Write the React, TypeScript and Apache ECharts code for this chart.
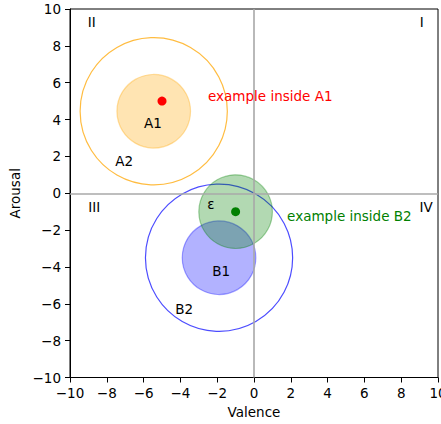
import React, { useEffect, useRef } from "react";
import * as echarts from "echarts";

// Circles (regions)
const circleNames = ["A2", "A1", "B2", "B1", "ε"];
const circleX = [-5.45, -5.45, -1.9, -1.9, -1];
const circleY = [4.45, 4.45, -3.5, -3.5, -1];
const circleR = [4, 2, 4, 2, 2];
const circleFill = ["none", "rgba(255,165,0,0.3)", "none", "rgba(0,0,255,0.3)", "rgba(0,128,0,0.3)"];
const circleStroke = ["rgba(255,165,0,0.75)", "rgba(255,165,0,0.35)", "rgba(0,0,255,0.7)", "rgba(0,0,255,0.35)", "rgba(0,128,0,0.35)"];

// Example points
const pointX = [-5, -1];
const pointY = [5, -1];
const pointColors = ["#ff0000", "#008000"];

// Text annotations
const textLabels = ["A1", "A2", "ε", "B1", "B2", "example inside A1", "example inside B2", "II", "I", "III", "IV"];
const textX = [-5.5, -7.05, -2.34, -1.79, -3.79, -2.5, 1.8, -8.82, 9.11, -8.68, 9.35];
const textY = [3.79, 1.76, -0.56, -4.22, -6.27, 5.27, -1.25, 9.3, 9.3, -0.74, -0.74];
const textAlign = ["center", "center", "center", "center", "center", "left", "left", "center", "center", "center", "center"];
const textColors = ["#000", "#000", "#000", "#000", "#000", "#ff0000", "#008000", "#000", "#000", "#000", "#000"];

const axisMin = -10;
const axisMax = 10;
const axisInterval = 2;

const FONT = "DejaVu Sans";
const FS = 13.5;
const fmt = (v: number) => String(v).replace("-", "\u2212");

export default function App() {
  const ref = useRef<HTMLDivElement>(null);
  useEffect(() => {
    if (!ref.current) return;
    const chart = echarts.init(ref.current, undefined, { renderer: "svg" });
    const axisCommon = {
      type: "value" as const,
      min: axisMin,
      max: axisMax,
      interval: axisInterval,
      splitLine: { show: false },
      axisLine: { show: true, onZero: false, lineStyle: { color: "#000", width: 1 } },
      axisTick: { show: true, inside: false, length: 5, lineStyle: { color: "#000", width: 1 } },
      axisLabel: { formatter: fmt, color: "#000", fontSize: FS, fontFamily: FONT },
      nameLocation: "middle" as const,
      nameTextStyle: { color: "#000", fontSize: FS, fontFamily: FONT },
    };
    chart.setOption({
      animation: false,
      grid: {
        left: 70, top: 9, width: 368, height: 368.5,
        containLabel: false, outerBoundsMode: "none",
        show: true, borderColor: "#000", borderWidth: 1, backgroundColor: "transparent",
      },
      xAxis: { ...axisCommon, name: "Valence", nameGap: 27, axisLabel: { ...axisCommon.axisLabel, margin: 8 } },
      yAxis: { ...axisCommon, name: "Arousal", nameGap: 45, axisLabel: { ...axisCommon.axisLabel, margin: 9 } },
      series: [
        {
          type: "line",
          data: [],
          markLine: {
            silent: true,
            symbol: "none",
            label: { show: false },
            lineStyle: { color: "#a8a8a8", width: 1.6, type: "solid" },
            data: [{ xAxis: 0 }, { yAxis: 0 }],
          },
        },
        {
          type: "custom",
          data: circleX.map((x, i) => [x, circleY[i], circleR[i]]),
          renderItem: (params: any, api: any) => {
            const i = params.dataIndex;
            const c = api.coord([api.value(0), api.value(1)]);
            const s = api.size([api.value(2), api.value(2)]);
            return {
              type: "circle",
              shape: { cx: c[0], cy: c[1], r: s[0] },
              style: { fill: circleFill[i], stroke: circleStroke[i], lineWidth: 1.2 },
            };
          },
          z: 3,
        },
        ...pointX.map((x, i) => ({
          type: "scatter",
          data: [[x, pointY[i]]],
          symbolSize: 9,
          itemStyle: { color: pointColors[i], opacity: 1 },
          z: 4,
        })),
        {
          type: "custom",
          data: textX.map((x, i) => [x, textY[i]]),
          renderItem: (params: any, api: any) => {
            const i = params.dataIndex;
            const c = api.coord([api.value(0), api.value(1)]);
            return {
              type: "text",
              x: c[0],
              y: c[1],
              style: {
                text: textLabels[i],
                fill: textColors[i],
                font: `${FS}px "${FONT}"`,
                align: textAlign[i],
                verticalAlign: "middle",
              },
            };
          },
          z: 5,
        },
      ],
    });
    return () => chart.dispose();
  }, []);
  return <div ref={ref} style={{ position: "absolute", left: 0, top: 0, width: 441, height: 424 }} />;
}
